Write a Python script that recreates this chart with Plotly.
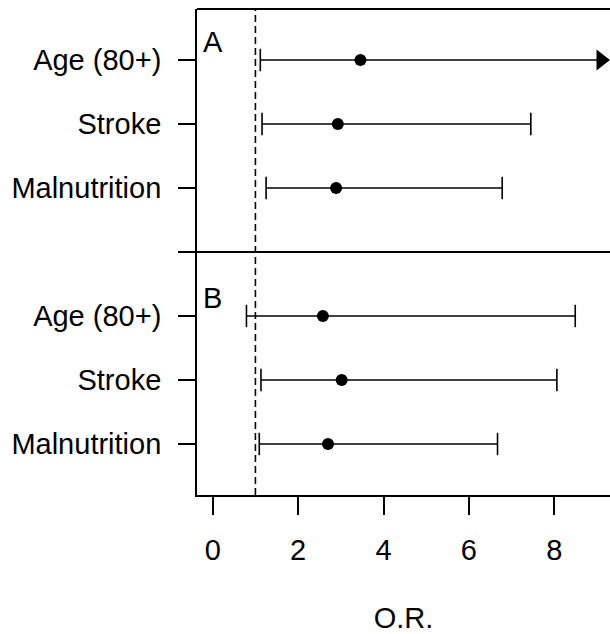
import plotly.graph_objects as go

# ---------------- data ----------------
factors = ["Age (80+)", "Stroke", "Malnutrition"]
panels = ["A", "B"]

or_a = [3.46, 2.93, 2.89]
lo_a = [1.115, 1.155, 1.25]
hi_a = [None, 7.45, 6.78]       # None -> upper limit beyond the axis (arrow)

or_b = [2.58, 3.02, 2.70]
lo_b = [0.79, 1.13, 1.09]
hi_b = [8.49, 8.06, 6.67]

x_ticks = [0, 2, 4, 6, 8]
ref_line = 1

# ---------------- layout constants ----------------
W, H = 610, 634
ML, MR, MT, MB = 197, 0, 9, 139
X_MIN = -0.368
X_MAX = 9.304
Y_TOP, Y_BOT = 0.203, 7.797
FONT = "Liberation Sans, Arial, sans-serif"
FS = 29
plot_w = W - ML - MR
px_per_unit = plot_w / (X_MAX - X_MIN)

# y positions: 3 rows panel A, separator, 3 rows panel B
ypos_a = [1, 2, 3]
sep_y = 4
ypos_b = [5, 6, 7]

fig = go.Figure()

ARROW_SIZE = 18
arrow_x = X_MAX - (ARROW_SIZE / 2) / px_per_unit

def add_panel(est, lo, hi, ys):
    for e, l, h, y in zip(est, lo, hi, ys):
        right = h if h is not None else arrow_x
        fig.add_trace(go.Scatter(x=[l, right], y=[y, y], mode="lines",
                                 line=dict(color="black", width=1.6),
                                 showlegend=False, hoverinfo="skip", cliponaxis=False))
        caps = [l] + ([h] if h is not None else [])
        fig.add_trace(go.Scatter(x=caps, y=[y] * len(caps), mode="markers",
                                 marker=dict(symbol="line-ns", size=16,
                                             line=dict(color="black", width=1.6)),
                                 showlegend=False, hoverinfo="skip"))
        if h is None:
            fig.add_trace(go.Scatter(x=[arrow_x], y=[y], mode="markers",
                                     marker=dict(symbol="triangle-right", size=ARROW_SIZE,
                                                 color="black"),
                                     showlegend=False, hoverinfo="skip", cliponaxis=False))
    fig.add_trace(go.Scatter(x=est, y=ys, mode="markers",
                             marker=dict(symbol="circle", size=12, color="black"),
                             showlegend=False))

add_panel(or_a, lo_a, hi_a, ypos_a)
add_panel(or_b, lo_b, hi_b, ypos_b)

tickvals = ypos_a + [sep_y] + ypos_b
ticktext = factors + [""] + factors

shapes = [
    # reference line at OR = 1
    dict(type="line", xref="x", yref="paper", x0=ref_line, x1=ref_line, y0=0, y1=1,
         line=dict(color="black", width=1.6, dash="7px,4px")),
    # separator between panels
    dict(type="line", xref="paper", yref="y", x0=0, x1=1, y0=sep_y, y1=sep_y,
         line=dict(color="black", width=1.8)),
    # top border
    dict(type="line", xref="paper", yref="paper", x0=0, x1=1, y0=1, y1=1,
         line=dict(color="black", width=1.8)),
]

annotations = [
    dict(text=p, x=0, y=ys[0] - 0.28, xref="x", yref="y", showarrow=False,
         font=dict(family=FONT, size=FS, color="black"), xanchor="center", yanchor="middle")
    for p, ys in zip(panels, [ypos_a, ypos_b])
]

fig.update_layout(
    width=W, height=H,
    margin=dict(l=ML, r=MR, t=MT, b=MB, pad=0),
    paper_bgcolor="white", plot_bgcolor="white",
    font=dict(family=FONT, size=FS, color="black"),
    shapes=shapes, annotations=annotations,
    xaxis=dict(range=[X_MIN, X_MAX], tickvals=x_ticks, ticks="outside", ticklen=18,
               tickwidth=1.8, tickcolor="black", showgrid=False, zeroline=False,
               showline=True, linecolor="black", linewidth=1.8,
               ticklabelstandoff=10,
               title=dict(text="O.R.", standoff=48, font=dict(size=FS))),
    yaxis=dict(range=[Y_BOT, Y_TOP], tickvals=tickvals, ticktext=ticktext,
               ticks="outside", ticklen=17, tickwidth=1.8, tickcolor="black",
               showgrid=False, zeroline=False, showline=True, linecolor="black",
               linewidth=1.8, ticklabelstandoff=11),
)

fig.write_html("out.html", config={"displayModeBar": False},
               post_script="document.body.style.margin='0';")
